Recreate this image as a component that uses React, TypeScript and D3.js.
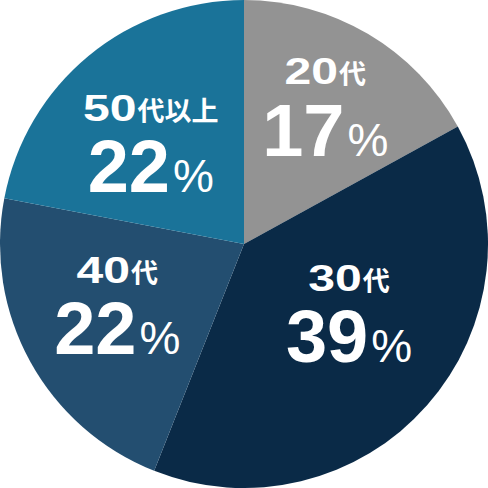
import React, { useEffect, useRef } from 'react';
import * as d3 from 'd3';

// 年代別の構成比
const ageNums = ['20', '30', '40', '50'];
const ageSuffix = ['代', '代', '代', '代以上'];
const shares = [17, 39, 22, 22];
const colors = ['#939393', '#0a2a47', '#234e70', '#1a7399'];

const SIZE = 488;
const RADIUS = 244;
// ラベル位置の微調整
const nudges: Array<[number, number]> = [
    [10, -3],
    [0, -10],
    [-4, 8],
    [-4, 21],
];

const PieChart: React.FC = () => {
    const svgRef = useRef<SVGSVGElement>(null);

    useEffect(() => {
        if (!svgRef.current) return;
        const svg = d3.select(svgRef.current);
        svg.selectAll('*').remove();

        const g = svg
            .append('g')
            .attr('transform', `translate(${SIZE / 2}, ${SIZE / 2})`);

        const pie = d3
            .pie<number>()
            .sort(null)
            .value((d) => d);
        const arcs = pie(shares);

        const arc = d3
            .arc<d3.PieArcDatum<number>>()
            .innerRadius(0)
            .outerRadius(RADIUS);
        const labelArc = d3
            .arc<d3.PieArcDatum<number>>()
            .innerRadius(140)
            .outerRadius(140);

        // 扇形
        g.selectAll('.slice')
            .data(arcs)
            .join('path')
            .attr('class', 'slice')
            .attr('d', arc)
            .attr('fill', (_, i) => colors[i]);

        // ラベル
        arcs.forEach((d, i) => {
            const [x0, y0] = labelArc.centroid(d);
            const cx = x0 + nudges[i][0];
            const cy = y0 + nudges[i][1];

            // 1行目（年代）
            const line1 = g.append('g');
            const num = line1
                .append('text')
                .attr('transform', 'scale(1.3,1)')
                .attr('font-family', '"Liberation Sans", Arial, sans-serif')
                .attr('font-weight', 'bold')
                .attr('font-size', 37)
                .attr('fill', '#fff')
                .text(ageNums[i]);
            const numW =
                (num.node() as SVGTextElement).getComputedTextLength() * 1.3;
            const suf = line1
                .append('text')
                .attr('x', numW + 1)
                .attr('font-family', '"Noto Sans CJK JP", sans-serif')
                .attr('font-weight', 'bold')
                .attr('font-size', 27)
                .attr('fill', '#fff')
                .text(ageSuffix[i]);
            const sufW = (suf.node() as SVGTextElement).getComputedTextLength();
            const total = numW + 1 + sufW;
            line1.attr(
                'transform',
                `translate(${cx - total / 2}, ${cy - 36})`,
            );

            // 2行目（割合）
            const line2 = g
                .append('text')
                .attr('x', cx)
                .attr('y', cy + 35)
                .attr('text-anchor', 'middle')
                .attr('fill', '#fff')
                .attr('font-family', '"Liberation Sans", Arial, sans-serif');
            line2
                .append('tspan')
                .attr('font-weight', 'bold')
                .attr('font-size', 74)
                .text(String(shares[i]));
            line2
                .append('tspan')
                .attr('dx', 3)
                .attr('font-size', 46)
                .text('%');
        });
    }, []);

    return (
        <svg
            ref={svgRef}
            width={SIZE}
            height={SIZE}
            style={{ display: 'block' }}
        />
    );
};

export default function App() {
    return (
        <>
            <style>{'body{margin:0;background:#fff;}'}</style>
            <PieChart />
        </>
    );
}
